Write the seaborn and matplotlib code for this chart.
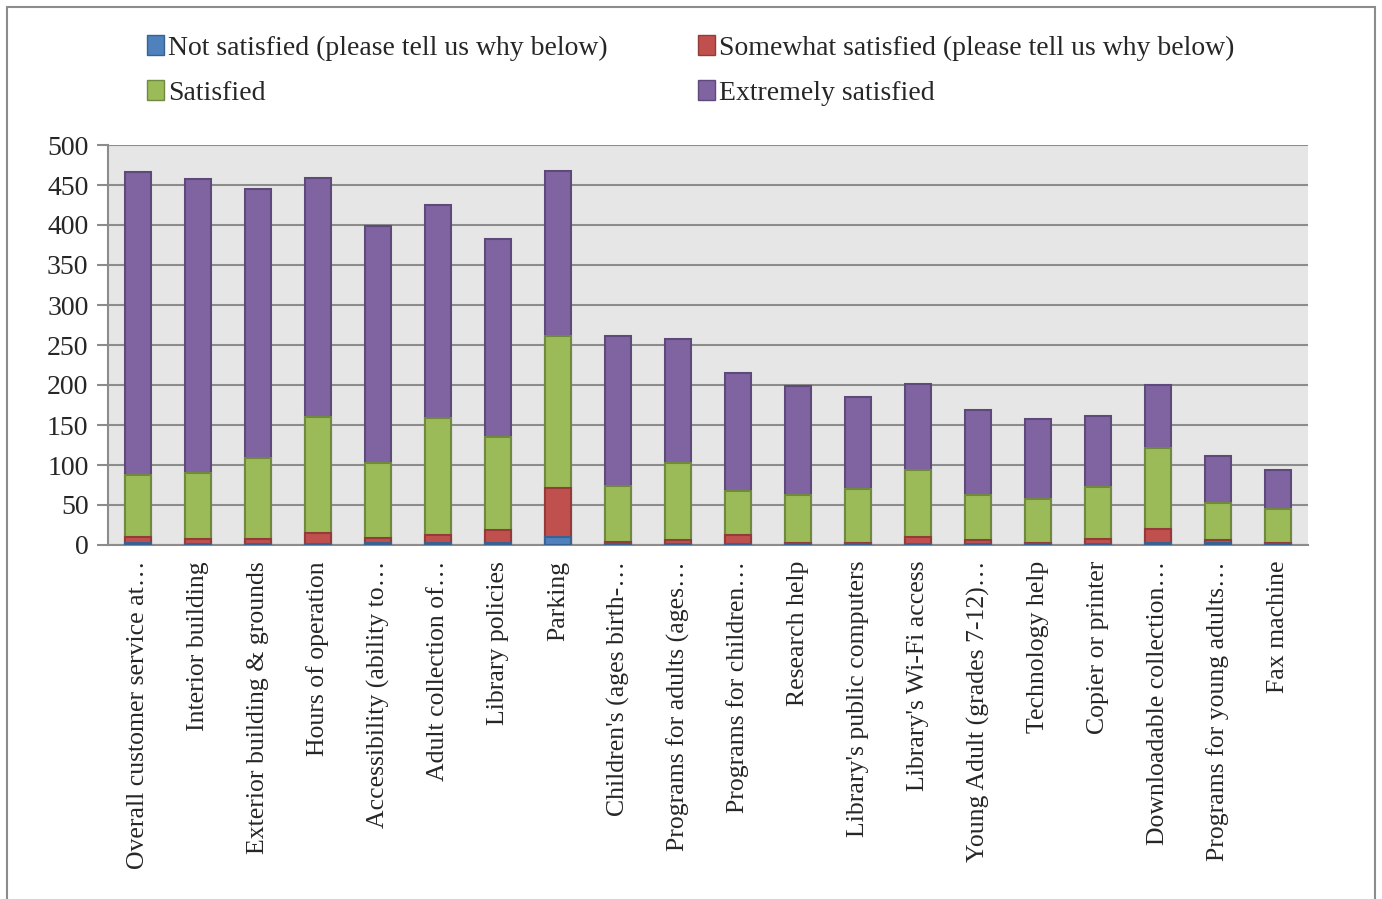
import pandas as pd
import matplotlib as mpl
import matplotlib.pyplot as plt
import seaborn as sns
import numpy as np
mpl.use('agg')

categories = ["Overall customer service at\u2026", "Interior building", "Exterior building & grounds",
              "Hours of operation", "Accessibility (ability to\u2026", "Adult collection of\u2026",
              "Library policies", "Parking", "Children's (ages birth-\u2026", "Programs for adults (ages\u2026",
              "Programs for children\u2026", "Research help", "Library's public computers",
              "Library's Wi-Fi access", "Young Adult (grades 7-12)\u2026", "Technology help",
              "Copier or printer", "Downloadable collection\u2026", "Programs for young adults\u2026",
              "Fax machine"]
not_satisfied = [2, 1, 1, 1, 2, 2, 2, 10, 1, 1, 1, 1, 1, 1, 1, 1, 1, 3, 3, 1]
somewhat = [8, 6, 6, 14, 7, 10, 17, 61, 3, 5, 11, 2, 2, 9, 5, 2, 7, 17, 3, 1]
satisfied = [78, 83, 102, 145, 94, 147, 116, 190, 70, 97, 56, 59, 67, 84, 56, 54, 64, 101, 46, 43]
extremely = [378, 367, 336, 299, 296, 266, 248, 207, 187, 155, 147, 137, 115, 107, 107, 101, 89, 79, 59, 49]

series = ['Not satisfied (please tell us why below)', 'Somewhat satisfied (please tell us why below)',
          'Satisfied', 'Extremely satisfied']
colors = ['#4F81BD', '#C0504D', '#9BBB59', '#8064A2']
edges = ['#3A6291', '#943B39', '#71893F', '#5E4A7A']

df = pd.DataFrame({'category': categories, series[0]: not_satisfied, series[1]: somewhat,
                   series[2]: satisfied, series[3]: extremely})
cum = df[series].cumsum(axis=1)

sns.set_style('white')
plt.rcParams['font.family'] = ['Liberation Serif', 'DejaVu Serif']

fig = plt.figure(figsize=(13.82, 8.99), dpi=100)
ax = fig.add_axes([108/1382, 1-545/899, 1200/1382, 400/899])
ax.set_facecolor('#E6E6E6')

# stacked look: draw cumulative totals from the top segment down
handles = {}
for i in range(3, -1, -1):
    sns.barplot(x=df['category'], y=cum[series[i]], color=colors[i], ax=ax, width=0.43,
                edgecolor=edges[i], linewidth=1.5, saturation=1, zorder=3)
    handles[series[i]] = mpl.patches.Patch(facecolor=colors[i], edgecolor=edges[i], label=series[i])

ax.set_ylim(0, 500)
ax.set_xlim(-0.5, len(categories) - 0.5)
ax.set_yticks(np.arange(0, 501, 50))
ax.yaxis.grid(True, color='#8C8C8C', linewidth=1.5, zorder=0)
ax.set_axisbelow(True)
for s in ['top', 'right']:
    ax.spines[s].set_visible(False)
for s in ['left', 'bottom']:
    ax.spines[s].set_color('#8C8C8C')
    ax.spines[s].set_linewidth(1.5)
ax.tick_params(axis='y', which='major', left=True, length=8, color='#8C8C8C', width=1.5,
               labelsize=20, pad=6)
ax.tick_params(axis='x', bottom=False, labelsize=18.5, pad=8)
ax.set_xticks(range(len(categories)))
ax.set_xticklabels(categories, rotation=90, va='top', ha='center')
ax.set_xlabel('')
ax.set_ylabel('')

order = [series[0], series[2], series[1], series[3]]
fig.legend(handles=[handles[s] for s in order], labels=order, loc='upper left',
           bbox_to_anchor=(136/1382, 1-24/899), ncol=2, frameon=False, fontsize=20,
           handlelength=0.6, handleheight=0.75, handletextpad=0.15, columnspacing=3.25,
           labelspacing=0.68, borderaxespad=0)

fig.patches.append(mpl.patches.Rectangle((7/1382, -0.05), 1368/1382, 1.05 - 7/899, fill=False,
                                         edgecolor='#8C8C8C', linewidth=1.5, transform=fig.transFigure))

plt.savefig('out.png', dpi=100)
